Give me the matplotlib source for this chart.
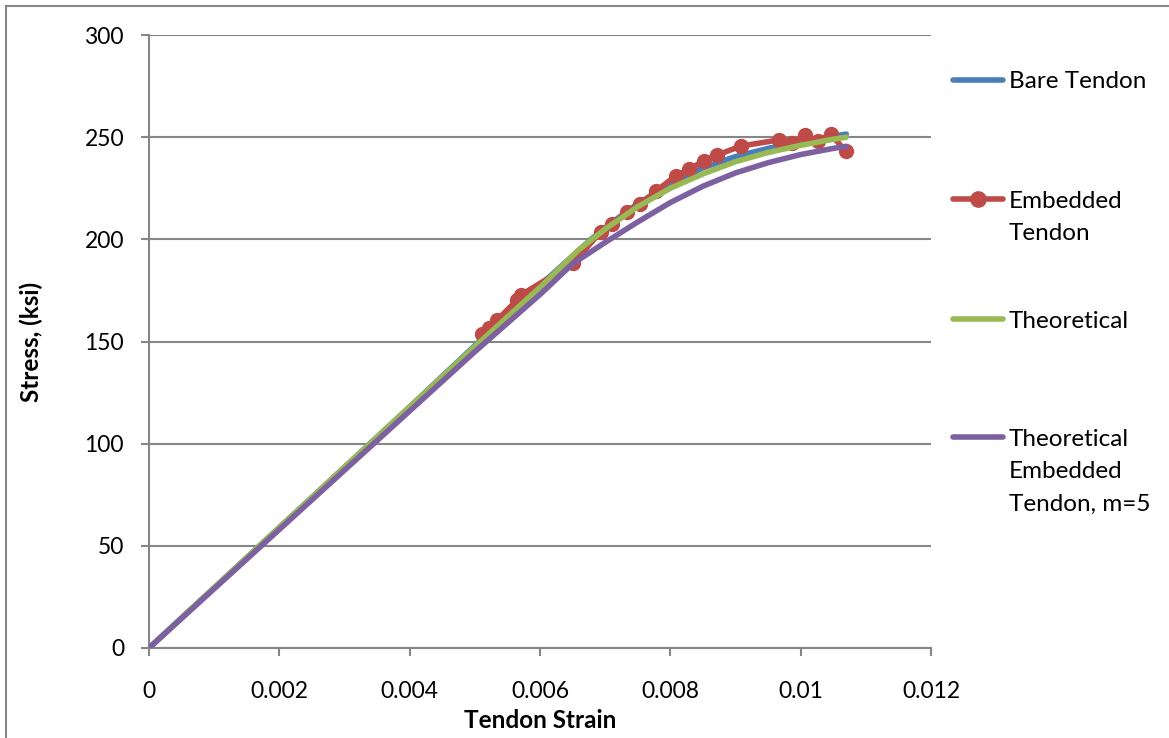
import matplotlib
matplotlib.use("Agg")
import matplotlib.pyplot as plt
from matplotlib.lines import Line2D

plt.rcParams['font.family'] = ['Lato', 'DejaVu Sans']

# ---- data ----
bare_x = [0, 0.001, 0.002, 0.003, 0.004, 0.005, 0.006, 0.0068, 0.0072, 0.0075,
          0.008, 0.0085, 0.009, 0.0095, 0.010, 0.0105, 0.0107]
bare_y = [0, 29.5, 59, 88.5, 118, 148, 177.5, 200.5, 210.5, 217.5,
          227, 235, 240.5, 244.5, 248, 250.5, 251.5]

emb_x = [0.00511, 0.00521, 0.00534, 0.00565, 0.00571, 0.00651, 0.00693, 0.00711,
         0.00734, 0.00754, 0.00778, 0.00808, 0.00829, 0.00851, 0.00872, 0.00909,
         0.00966, 0.00986, 0.01007, 0.01026, 0.01046, 0.01069]
emb_y = [153.7, 156.6, 160.5, 170.3, 172.8, 188.4, 203.6, 207.5,
         213.4, 217.3, 223.6, 231.0, 234.4, 238.3, 241.3, 245.7,
         248.6, 247.1, 251.1, 248.1, 251.5, 243.2]

theo_x = [0, 0.001, 0.002, 0.003, 0.004, 0.005, 0.006, 0.0066, 0.007, 0.0075,
          0.008, 0.0085, 0.009, 0.0095, 0.010, 0.0105, 0.0107]
theo_y = [0, 29.5, 59, 88.5, 118, 147.5, 176.5, 195, 205, 216,
          225, 232, 238, 242.5, 246, 249, 250]

temb_x = [0, 0.001, 0.002, 0.003, 0.004, 0.005, 0.006, 0.0065, 0.007, 0.0075,
          0.008, 0.0085, 0.009, 0.0095, 0.010, 0.0105, 0.0107]
temb_y = [0, 29, 58, 87, 116, 145, 173, 188, 198.5, 208.5,
          218, 226, 232.5, 237.5, 241.5, 244.5, 245.5]

labels = ["Bare Tendon", "Embedded\nTendon", "Theoretical",
          "Theoretical\nEmbedded\nTendon, m=5"]
xticks = [0, 0.002, 0.004, 0.006, 0.008, 0.01, 0.012]
xticklabels = ["0", "0.002", "0.004", "0.006", "0.008", "0.01", "0.012"]
yticks = [0, 50, 100, 150, 200, 250, 300]

c_blue, c_red, c_green, c_purple = "#4A7EBB", "#BE4B48", "#98B954", "#7D60A0"
gray = "#868686"

W, H = 1169, 738
fig = plt.figure(figsize=(W / 100, H / 100), dpi=100)
ax = fig.add_axes([149 / W, 1 - 648 / H, (931 - 149) / W, (648 - 35) / H])

lw = 4.0
h1, = ax.plot(bare_x, bare_y, color=c_blue, lw=lw, solid_capstyle='round', zorder=3)
h2, = ax.plot(emb_x, emb_y, color=c_red, lw=lw, marker='o', ms=10,
              solid_capstyle='round', zorder=4)
h3, = ax.plot(theo_x, theo_y, color=c_green, lw=lw, solid_capstyle='round', zorder=5)
h4, = ax.plot(temb_x, temb_y, color=c_purple, lw=lw, solid_capstyle='round', zorder=6)

ax.set_xlim(0, 0.012)
ax.set_ylim(0, 300)
ax.set_xticks(xticks)
ax.set_xticklabels(xticklabels)
ax.set_yticks(yticks)
ax.grid(axis='y', color=gray, lw=1.5)
ax.set_axisbelow(True)
for s in ['top', 'right']:
    ax.spines[s].set_visible(False)
for s in ['left', 'bottom']:
    ax.spines[s].set_color(gray)
    ax.spines[s].set_linewidth(1.5)
ax.tick_params(axis='both', direction='out', length=6, width=1.5, color=gray,
               labelsize=16.5, labelcolor='black')
ax.tick_params(axis='y', pad=12)
ax.tick_params(axis='x', pad=18)

ax.set_xlabel("Tendon Strain", fontsize=17.5, fontweight='bold', labelpad=5)
ax.set_ylabel("Stress, (ksi)", fontsize=17.5, fontweight='bold', labelpad=30)

# legend: handle aligned with first text line, as in the reference
first_line_y = [80, 199, 319, 437]
line_gap = 33
for h, lab, cy in zip([h1, h2, h3, h4], labels, first_line_y):
    yf = 1 - cy / H
    fig.add_artist(Line2D([953 / W, 1003 / W], [yf, yf], transform=fig.transFigure,
                          color=h.get_color(), lw=lw, solid_capstyle='round'))
    if h.get_marker() not in (None, 'None', ''):
        fig.add_artist(Line2D([978 / W], [yf], transform=fig.transFigure,
                              color=h.get_color(), marker='o', ms=11, lw=0))
    n = lab.count("\n")
    cy_text = cy + 2 + n * line_gap / 2
    fig.text(1009 / W, 1 - cy_text / H, lab, fontsize=17.5, va='center', ha='left',
             linespacing=1.65)

# figure frame (left and top edges visible in reference)
fig.add_artist(Line2D([6 / W, 6 / W], [0, 1 - 6 / H], transform=fig.transFigure,
                      color=gray, lw=1.5))
fig.add_artist(Line2D([6 / W, 1], [1 - 6 / H, 1 - 6 / H], transform=fig.transFigure,
                      color=gray, lw=1.5))

fig.savefig("out.png", dpi=100)
